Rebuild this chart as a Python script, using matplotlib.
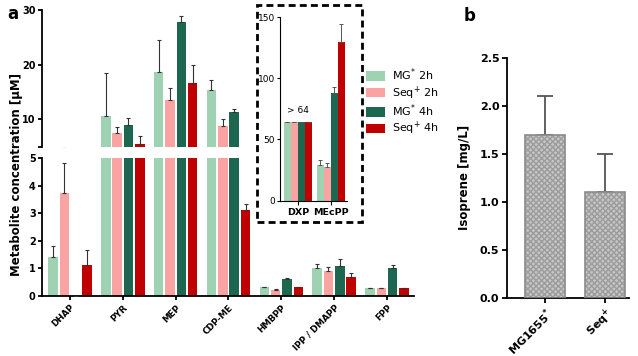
import matplotlib

matplotlib.use("Agg")
import matplotlib.pyplot as plt
import numpy as np
from matplotlib.patches import Patch, Rectangle

plt.rcParams["font.family"] = ["DejaVu Sans"]
plt.rcParams["mathtext.default"] = "regular"

# --- panel a data ---
metabolites = ["DHAP", "PYR", "MEP", "CDP-ME", "HMBPP", "IPP / DMAPP", "FPP"]
series = ["MG$^{*}$ 2h", "Seq$^{+}$ 2h", "MG$^{*}$ 4h", "Seq$^{+}$ 4h"]
colors = ["#9fd1b3", "#f9a3a3", "#1d6650", "#c00000"]

mg_2h = [1.42, 10.65, 18.65, 15.3, 0.32, 1.00, 0.30]
mg_2h_err = [0.38, 7.85, 5.85, 2.0, 0.02, 0.15, 0.0]
seq_2h = [3.72, 7.45, 13.6, 8.8, 0.22, 0.90, 0.30]
seq_2h_err = [1.10, 1.1, 2.15, 1.2, 0.02, 0.14, 0.0]
mg_4h = [0.0, 8.96, 27.75, 11.3, 0.62, 1.10, 1.02]
mg_4h_err = [0.0, 1.24, 1.25, 0.7, 0.02, 0.25, 0.10]
seq_4h = [1.12, 5.45, 16.7, 3.12, 0.32, 0.70, 0.30]
seq_4h_err = [0.55, 1.5, 3.2, 0.2, 0.02, 0.14, 0.0]

# inset (DXP, MEcPP)
inset_cats = ["DXP", "MEcPP"]
inset_mg_2h = [64, 29.1]
inset_mg_2h_err = [0, 4.1]
inset_seq_2h = [64, 27.7]
inset_seq_2h_err = [0, 2.8]
inset_mg_4h = [64, 88.1]
inset_mg_4h_err = [0, 4.4]
inset_seq_4h = [64, 129.7]
inset_seq_4h_err = [0, 14.3]

# --- panel b data ---
strains = ["MG1655$^{*}$", "Seq$^{+}$"]
isoprene = [1.7, 1.1]
isoprene_err = [0.4, 0.4]

vals = [mg_2h, seq_2h, mg_4h, seq_4h]
errs = [mg_2h_err, seq_2h_err, mg_4h_err, seq_4h_err]
ivals = [inset_mg_2h, inset_seq_2h, inset_mg_4h, inset_seq_4h]
ierrs = [inset_mg_2h_err, inset_seq_2h_err, inset_mg_4h_err, inset_seq_4h_err]

fig = plt.figure(figsize=(6.38, 3.56), dpi=100)

ax_hi = fig.add_axes([0.0658, 0.5876, 0.583, 0.384])
ax_lo = fig.add_axes([0.0658, 0.1685, 0.583, 0.3876])

x = np.arange(len(metabolites))
offs = [-1.5, -0.5, 0.5, 1.5]
for ax in (ax_hi, ax_lo):
    for v, e, c, o in zip(vals, errs, colors, offs):
        v = np.array(v, dtype=float)
        e = np.array(e, dtype=float)
        ax.bar(x + o * 0.215, v, 0.18, color=c, zorder=2)
        ax.errorbar(x + o * 0.215, v, yerr=[np.zeros_like(e), e], fmt="none",
                    ecolor="#333333", elinewidth=0.8, capsize=1.5, capthick=0.8,
                    zorder=3)
    ax.set_xlim(-0.53, 6.51)
    for s in ("top", "right"):
        ax.spines[s].set_visible(False)
    ax.spines["left"].set_linewidth(1.3)
    ax.tick_params(axis="y", width=1.3, length=3, pad=1.5, labelsize=7)

ax_hi.set_ylim(5, 30)
ax_hi.set_yticks([5, 10, 20, 30])
ax_hi.set_yticklabels(["", "10", "20", "30"], fontweight="bold")
ax_hi.spines["bottom"].set_visible(False)
ax_hi.tick_params(axis="x", bottom=False, labelbottom=False)

ax_lo.set_ylim(0, 5)
ax_lo.set_yticks([0, 1, 2, 3, 4, 5])
ax_lo.set_yticklabels(["0", "1", "2", "3", "4", "5"], fontweight="bold")
ax_lo.spines["bottom"].set_linewidth(1.3)
ax_lo.set_xticks(x)
ax_lo.set_xticklabels(metabolites, rotation=45, ha="right", rotation_mode="anchor",
                      fontsize=6.3, fontweight="bold")
ax_lo.tick_params(axis="x", width=1.3, length=3, pad=2)

fig.text(0.026, 0.51, "Metabolite concentration [\u03bcM]", rotation=90,
         ha="center", va="center", fontsize=8.5, fontweight="bold")
fig.text(0.012, 0.985, "a", fontsize=12, fontweight="bold", va="top")

# inset
ax_in = fig.add_axes([0.4389, 0.4362, 0.105, 0.516])
xi = np.arange(len(inset_cats))
for v, e, c, o in zip(ivals, ierrs, colors, offs):
    v = np.array(v, dtype=float)
    e = np.array(e, dtype=float)
    ax_in.bar(xi + o * 0.215, v, 0.215, color=c, zorder=2)
    ax_in.errorbar(xi + o * 0.215, v, yerr=[np.zeros_like(e), e], fmt="none",
                   ecolor="#555555", elinewidth=0.7, capsize=1.2, capthick=0.7,
                   zorder=3)
ax_in.text(0, 70, "> 64", ha="center", va="bottom", fontsize=6.5)
ax_in.set_xlim(-0.55, 1.5)
ax_in.set_ylim(0, 150)
ax_in.set_yticks([0, 50, 100, 150])
ax_in.tick_params(axis="y", labelsize=6.5, length=2.5, pad=1)
ax_in.set_xticks(xi)
ax_in.set_xticklabels(inset_cats, fontsize=6.8, fontweight="bold")
ax_in.tick_params(axis="x", length=3, pad=2)
for s in ("top", "right"):
    ax_in.spines[s].set_visible(False)

fig.patches.append(Rectangle((257 / 638, 1 - 222 / 356), 105 / 638, 217 / 356,
                             transform=fig.transFigure, fill=False,
                             edgecolor="black", linestyle=(0, (2.5, 1.5)),
                             linewidth=2))

handles = [Patch(facecolor=c, edgecolor="none") for c in colors]
fig.legend(handles, series, loc="upper left", bbox_to_anchor=(0.567, 0.825),
           frameon=False, fontsize=8, handlelength=1.7, handleheight=0.95,
           labelspacing=0.08, handletextpad=0.6, borderaxespad=0)

# panel b
ax_b = fig.add_axes([0.7947, 0.1638, 0.191, 0.674])
xb = np.arange(len(strains))
ax_b.bar(xb, isoprene, 0.67, color="#c6c6c6", edgecolor="#9c9c9c", hatch="xxxxxx",
         linewidth=0, zorder=2)
ax_b.bar(xb, isoprene, 0.67, fill=False, edgecolor="#8a8a8a", linewidth=1.2, zorder=3)
ax_b.errorbar(xb, isoprene, yerr=[np.zeros(len(xb)), isoprene_err], fmt="none",
              ecolor="#555555", elinewidth=1.3, capsize=6, capthick=1.3, zorder=1)
ax_b.set_xlim(-0.63, 1.4)
ax_b.set_ylim(0, 2.5)
ax_b.set_yticks([0, 0.5, 1.0, 1.5, 2.0, 2.5])
ax_b.set_yticklabels(["0.0", "0.5", "1.0", "1.5", "2.0", "2.5"], fontweight="bold")
ax_b.set_xticks(xb)
ax_b.set_xticklabels(strains, rotation=45, ha="right", rotation_mode="anchor",
                     fontsize=7.2, fontweight="bold")
ax_b.tick_params(width=1.3, length=3.5, pad=2, labelsize=8)
for s in ("top", "right"):
    ax_b.spines[s].set_visible(False)
for s in ("left", "bottom"):
    ax_b.spines[s].set_linewidth(1.3)
ax_b.set_ylabel("Isoprene [mg/L]", fontsize=8.5, fontweight="bold", labelpad=6)
fig.text(0.726, 0.98, "b", fontsize=12, fontweight="bold", va="top")

fig.savefig("out.png", dpi=100)
plt.close(fig)
